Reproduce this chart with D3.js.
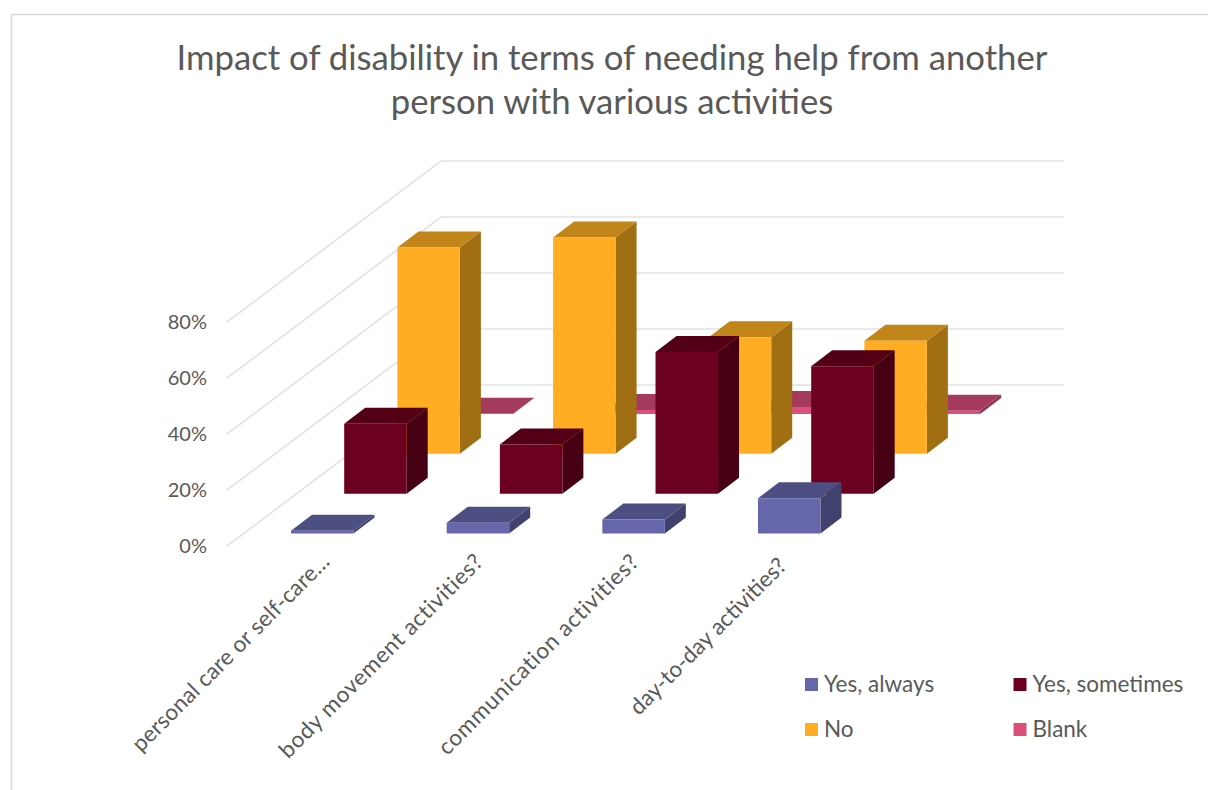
<!DOCTYPE html>
<html>
<head>
<meta charset="utf-8">
<style>
html,body{margin:0;padding:0;background:#fff;overflow:hidden}
svg{display:block}
text{font-family:Lato,"Noto Sans",sans-serif;fill:#595959}
</style>
<script src="https://cdn.jsdelivr.net/npm/d3@7"></script>
</head>
<body>
<svg id="chart" width="1208" height="790"></svg>
<script>
const titleLines = ["Impact of disability in terms of needing help from another", "person with various activities"];
const categories = ["personal care or self-care…", "body movement activities?", "communication activities?", "day-to-day activities?"];
const seriesNames = ["Yes, always", "Yes, sometimes", "No", "Blank"];
const yesAlways = [1, 3.8, 5, 12.6];
const yesSometimes = [25, 17.6, 50.6, 45.5];
const noValues = [73.7, 77.3, 41.6, 40.4];
const blankValues = [0.1, 1.4, 2.5, 1.2];
const tickValues = [0, 20, 40, 60, 80];
const frontColors = ["#6667AB", "#6C0020", "#FFAE23", "#DB4F7B"];
const topColors = ["#4D4E81", "#530017", "#C1851A", "#A43B5C"];
const sideColors = ["#40416D", "#450013", "#A06F14", "#8A3150"];

const seriesValues = [yesAlways, yesSometimes, noValues, blankValues];
const svg = d3.select("#chart");

// Chart frame
svg.append("path").attr("d", d3.line()([[1208, 14.5], [11.5, 14.5], [11.5, 790]]))
  .attr("fill", "none").attr("stroke", "#d9d9d9").attr("stroke-width", 1.6);

// Title
svg.append("g").selectAll("text").data(titleLines).join("text")
  .attr("x", 612).attr("y", (d, i) => 70 + i * 43.5)
  .attr("text-anchor", "middle").attr("font-size", 34.7).text(d => d);

// Projection scales
const xCat = d3.scaleLinear().domain([0, 3]).range([291, 758]);
const barW = 62.5;
const rowX = d3.scaleLinear().domain([0, 3]).range([0, 159.6]);
const rowY = d3.scaleLinear().domain([0, 3]).range([533.5, 414]);
const valH = d3.scaleLinear().domain([0, 80]).range([0, 224]);
const depthX = 21, depthY = 16;
const yFront = d3.scaleLinear().domain([0, 80]).range([546, 322]);
const yBack = d3.scaleLinear().domain([0, 80]).range([385, 161]);

// Gridlines (side wall + back wall)
const grid = svg.append("g").attr("fill", "none").attr("stroke", "#e2e2e2").attr("stroke-width", 1.6);
grid.selectAll("path").data(tickValues).join("path")
  .attr("d", t => d3.line()([[227, yFront(t)], [441, yBack(t)], [1064, yBack(t)]]));

// Value axis
const yAxis = d3.axisLeft(yFront).tickValues(tickValues).tickSize(0).tickPadding(0).tickFormat(d => d + "%");
const axisG = svg.append("g").attr("transform", "translate(207,0.5)").call(yAxis);
axisG.select(".domain").remove();
axisG.selectAll("text").attr("font-size", 20).style("fill", "#595959");
axisG.attr("font-family", null);

// Bars, back row first
const line = d3.line();
d3.range(3, -1, -1).forEach(s => {
  const g = svg.append("g");
  seriesValues[s].forEach((v, c) => {
    const x0 = xCat(c) + rowX(s), x1 = x0 + barW;
    const yb = rowY(s), yt = yb - valH(v);
    g.append("path").attr("fill", sideColors[s])
      .attr("d", line([[x1, yb], [x1 + depthX, yb - depthY], [x1 + depthX, yt - depthY], [x1, yt]]) + "Z");
    g.append("path").attr("fill", topColors[s])
      .attr("d", line([[x0, yt], [x0 + depthX, yt - depthY], [x1 + depthX, yt - depthY], [x1, yt]]) + "Z");
    g.append("path").attr("fill", frontColors[s])
      .attr("d", line([[x0, yb], [x0, yt], [x1, yt], [x1, yb]]) + "Z");
  });
});

// Category labels
svg.append("g").selectAll("text").data(categories).join("text")
  .attr("text-anchor", "end").attr("font-size", 22.5)
  .attr("letter-spacing", (d, i) => [0.15, 0.6, 0.75, 0][i])
  .attr("transform", (d, i) => `translate(${xCat(i) + [40, 38, 38, 30][i]},${[563, 563, 563, 567][i]}) rotate(-45)`)
  .text(d => d);

// Legend
const legendX = [805, 1013.5], legendY = [678, 723];
const legend = svg.append("g").selectAll("g").data(seriesNames).join("g")
  .attr("transform", (d, i) => `translate(${legendX[i % 2]},${legendY[Math.floor(i / 2)]})`);
legend.append("rect").attr("width", 13).attr("height", 13).attr("fill", (d, i) => frontColors[i]);
legend.append("text").attr("x", 19).attr("y", 14).attr("font-size", 22.5).text(d => d);
</script>
</body>
</html>
